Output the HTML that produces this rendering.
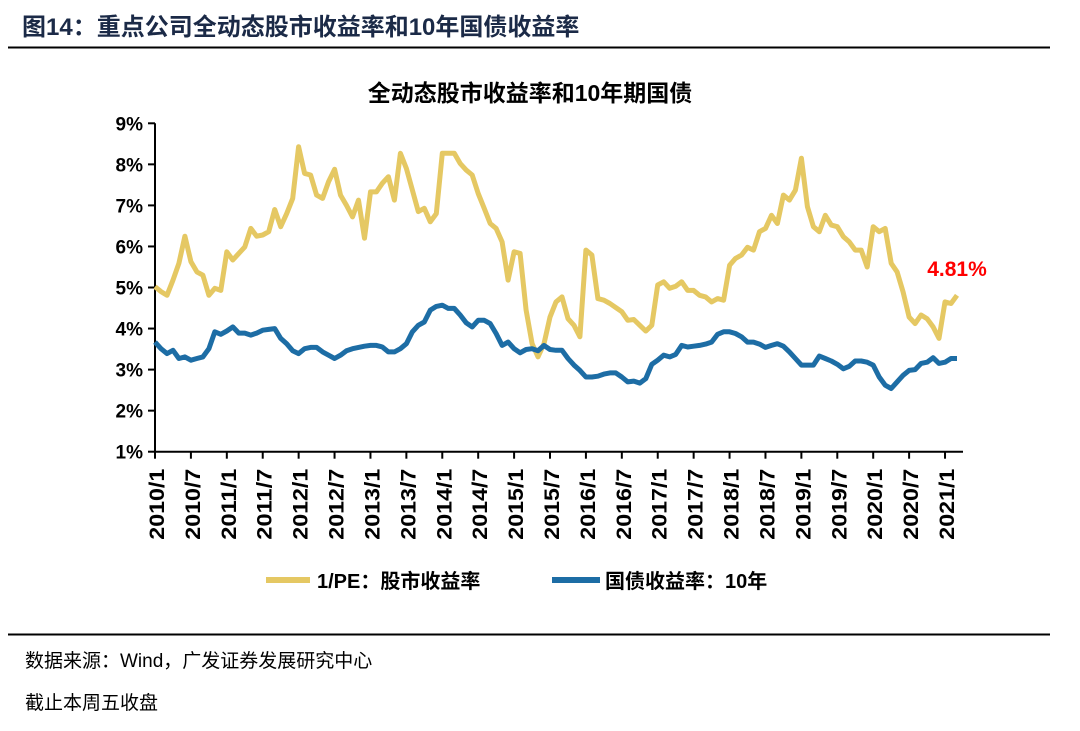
<!DOCTYPE html>
<html><head><meta charset="utf-8"><style>
body{margin:0;background:#fff;width:1080px;height:726px;overflow:hidden;font-family:"Liberation Sans","Noto Sans CJK SC",sans-serif}
</style></head><body>
<svg width="1080" height="726" xmlns="http://www.w3.org/2000/svg">
<text x="22" y="35" font-size="24" font-weight="bold" fill="#1b2a47" font-family="Liberation Sans,Noto Sans CJK SC,sans-serif">图14：重点公司全动态股市收益率和10年国债收益率</text>
<line x1="8" y1="47.5" x2="1050" y2="47.5" stroke="#000" stroke-width="2"/>
<text x="530" y="101" font-size="23" font-weight="bold" text-anchor="middle" fill="#000" font-family="Liberation Sans,Noto Sans CJK SC,sans-serif">全动态股市收益率和10年期国债</text>
<g id="axes"></g>
<g id="series"></g>
<text x="957" y="276" font-size="21" font-weight="bold" fill="#f00" text-anchor="middle" font-family="Liberation Sans,sans-serif">4.81%</text>
<g>
<line x1="266" y1="580" x2="310" y2="580" stroke="#E5C863" stroke-width="6"/>
<text x="317" y="588" font-size="20" font-weight="bold" font-family="Liberation Sans,Noto Sans CJK SC,sans-serif">1/PE：股市收益率</text>
<line x1="552" y1="580" x2="600" y2="580" stroke="#1D6DA5" stroke-width="6"/>
<text x="605" y="588" font-size="20" font-weight="bold" font-family="Liberation Sans,Noto Sans CJK SC,sans-serif">国债收益率：10年</text>
</g>
<line x1="8" y1="634.5" x2="1050" y2="634.5" stroke="#000" stroke-width="2"/>
<text x="25" y="667" font-size="19" fill="#000" font-family="Liberation Sans,Noto Sans CJK SC,sans-serif">数据来源：Wind，广发证券发展研究中心</text>
<text x="25" y="709" font-size="19" fill="#000" font-family="Liberation Sans,Noto Sans CJK SC,sans-serif">截止本周五收盘</text>
</svg>
<script>
const yTicks=[1,2,3,4,5,6,7,8,9];
const xTickLabels=["2010/1","2010/7","2011/1","2011/7","2012/1","2012/7","2013/1","2013/7","2014/1","2014/7","2015/1","2015/7","2016/1","2016/7","2017/1","2017/7","2018/1","2018/7","2019/1","2019/7","2020/1","2020/7","2021/1"];
const peYield=[5.02,4.9,4.81,5.18,5.59,6.25,5.63,5.38,5.3,4.81,4.98,4.93,5.87,5.67,5.83,5.99,6.44,6.25,6.28,6.36,6.9,6.48,6.8,7.17,8.43,7.78,7.74,7.25,7.17,7.58,7.88,7.25,7.0,6.72,7.13,6.2,7.33,7.33,7.54,7.7,7.13,8.27,7.9,7.37,6.85,6.93,6.6,6.8,8.27,8.27,8.27,8.02,7.86,7.74,7.29,6.93,6.56,6.44,6.11,5.18,5.87,5.83,4.45,3.63,3.31,3.63,4.28,4.65,4.77,4.24,4.08,3.8,5.91,5.79,4.73,4.69,4.61,4.51,4.41,4.2,4.22,4.08,3.94,4.08,5.06,5.14,4.98,5.03,5.14,4.93,4.93,4.81,4.77,4.65,4.73,4.69,5.54,5.71,5.79,5.98,5.91,6.36,6.44,6.76,6.56,7.25,7.13,7.37,8.15,6.97,6.48,6.36,6.76,6.52,6.48,6.24,6.11,5.91,5.91,5.5,6.48,6.36,6.44,5.59,5.38,4.89,4.28,4.12,4.33,4.24,4.04,3.76,4.65,4.61,4.81];
const bondYield=[3.67,3.51,3.39,3.47,3.27,3.31,3.23,3.27,3.31,3.51,3.92,3.86,3.94,4.04,3.89,3.89,3.84,3.89,3.96,3.98,4.0,3.76,3.63,3.46,3.39,3.51,3.54,3.54,3.43,3.35,3.27,3.35,3.46,3.51,3.54,3.57,3.59,3.59,3.55,3.43,3.43,3.51,3.63,3.92,4.08,4.16,4.45,4.54,4.57,4.49,4.49,4.33,4.14,4.04,4.2,4.2,4.12,3.88,3.59,3.67,3.51,3.41,3.49,3.51,3.46,3.59,3.49,3.47,3.47,3.27,3.11,2.98,2.82,2.82,2.84,2.89,2.92,2.92,2.82,2.7,2.72,2.67,2.78,3.13,3.23,3.35,3.31,3.37,3.59,3.55,3.57,3.59,3.62,3.67,3.86,3.92,3.92,3.88,3.8,3.67,3.67,3.62,3.54,3.59,3.63,3.57,3.43,3.27,3.11,3.11,3.11,3.33,3.27,3.21,3.13,3.02,3.08,3.21,3.21,3.18,3.11,2.82,2.62,2.54,2.7,2.86,2.98,3.0,3.15,3.18,3.29,3.15,3.18,3.27,3.27];
const NS="http://www.w3.org/2000/svg";
const X0=155,PXM=5.985,XEND=963,Y9=123.3,PXU=41.05;
function xScale(m){return X0+m*PXM;}
function yScale(v){return Y9+(9-v)*PXU;}
function mk(tag,attrs,parent){const e=document.createElementNS(NS,tag);for(const k in attrs)e.setAttribute(k,attrs[k]);parent.appendChild(e);return e;}
const axes=document.getElementById('axes');
let yl=mk('line',{x1:X0,y1:yScale(9),x2:X0,y2:yScale(1),stroke:'#000','stroke-width':2},axes);


let xl=mk('line',{x1:X0,y1:yScale(1),x2:XEND,y2:yScale(1),stroke:'#000','stroke-width':2},axes);


yTicks.forEach(v=>{
 const t=mk('line',{x1:X0-7,y1:yScale(v),x2:X0,y2:yScale(v),stroke:'#000','stroke-width':2},axes);
 
 
 const l=mk('text',{x:X0-12,y:yScale(v)+7,'text-anchor':'end','font-size':19,'font-weight':'bold','font-family':'Liberation Sans,sans-serif'},axes);
 l.textContent=v+'%';
 
 
});
xTickLabels.forEach((s,i)=>{
 const x=xScale(i*6);
 const t=mk('line',{x1:x,y1:yScale(1),x2:x,y2:yScale(1)+7,stroke:'#000','stroke-width':2},axes);
 
 
 const l=mk('text',{x:0,y:0,'text-anchor':'end','font-size':21,'font-weight':'bold','font-family':'Liberation Sans,sans-serif',textLength:71,lengthAdjust:'spacingAndGlyphs',transform:`translate(${x+9},${yScale(1)+17}) rotate(-90)`},axes);
 l.textContent=s;
 
 
});
const sg=document.getElementById('series');
function pts(arr){return arr.map((v,i)=>xScale(i).toFixed(1)+','+yScale(v).toFixed(1)).join(' ');}
const p1=mk('polyline',{points:pts(peYield),fill:'none',stroke:'#E5C863','stroke-width':5,'stroke-linejoin':'round'},sg);


const p2=mk('polyline',{points:pts(bondYield),fill:'none',stroke:'#1D6DA5','stroke-width':5,'stroke-linejoin':'round'},sg);


</script>
</body></html>
